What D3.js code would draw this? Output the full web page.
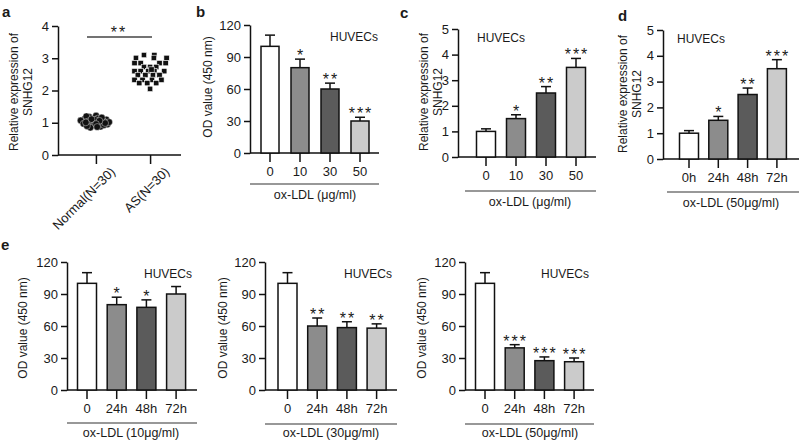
<!DOCTYPE html>
<html><head><meta charset="utf-8">
<script src="https://cdn.jsdelivr.net/npm/d3@7/dist/d3.min.js"></script>
<style>
body{margin:0;background:#fff;}
svg{display:block;}
svg text{font-family:"Liberation Sans",Arial,Helvetica,sans-serif;fill:#1a1a1a;}
</style></head><body>
<svg id="chart" width="800" height="441"></svg>
<script>
// ---------- DATA ----------
const aCategories = ["Normal(N=30)", "AS(N=30)"];
const aTicks = [0, 1, 2, 3, 4];
const normalValues = [1.22,1.18,1.15,1.12,1.10,1.08,1.05,1.03,1.00,0.98,0.95,0.92,0.88,0.85,1.20,1.13,1.07,1.02,0.97,0.93,1.16,1.09,1.04,0.99,0.90,1.11,1.06,1.01,0.96,0.87];
const normalJitter = [0.02,-0.10,0.12,-0.18,0.20,-0.05,0.15,-0.22,0.05,-0.12,0.22,-0.02,0.10,-0.08,-0.15,0.05,-0.25,0.25,-0.20,0.16,0.12,0.00,-0.12,0.18,-0.14,-0.06,0.08,-0.16,0.02,0.04];
const asValues = [3.10,3.10,3.01,3.01,3.01,2.85,2.85,2.85,2.85,2.73,2.73,2.73,2.60,2.60,2.60,2.60,2.60,2.48,2.48,2.48,2.48,2.33,2.33,2.33,2.33,2.23,2.23,2.23,2.05,2.65];
const asJitter = [-0.13,0.09,-0.30,0.08,0.35,-0.33,-0.20,0.20,0.33,-0.13,0.00,0.13,-0.33,-0.20,-0.04,0.09,0.30,-0.26,-0.10,0.06,0.20,-0.33,-0.16,0.04,0.24,-0.23,-0.06,0.13,0.00,0.03];
const aSig = "**";

const concCategories = ["0", "10", "30", "50"];
const timeCategories = ["0h", "24h", "48h", "72h"];
const timeCategoriesE = ["0", "24h", "48h", "72h"];
const odTicks = [0, 30, 60, 90, 120];
const exprTicks = [0, 1, 2, 3, 4, 5];

const bMeans = [100, 80, 60, 30];
const bErr = [10.5, 8, 5.5, 3.5];
const bSig = ["", "*", "**", "***"];

const cMeans = [1.0, 1.5, 2.5, 3.5];
const cErr = [0.1, 0.15, 0.25, 0.35];
const cSig = ["", "*", "**", "***"];

const dMeans = [1.0, 1.5, 2.5, 3.5];
const dErr = [0.1, 0.15, 0.25, 0.35];
const dSig = ["", "*", "**", "***"];

const e1Means = [100, 80, 77.5, 90];
const e1Err = [10, 7, 7, 7];
const e1Sig = ["", "*", "*", ""];

const e2Means = [100, 60, 58.5, 58];
const e2Err = [10, 7.5, 5.5, 4];
const e2Sig = ["", "**", "**", "**"];

const e3Means = [100, 39.5, 27.5, 26.5];
const e3Err = [10, 3, 3.5, 3.5];
const e3Sig = ["", "***", "***", "***"];

const barColors = ["#ffffff", "#8c8c8c", "#5b5b5b", "#cbcbcb"];

// ---------- DRAW ----------
const svg = d3.select("#chart");
const FONT = '"Liberation Sans",Arial,Helvetica,sans-serif';
const fmt = d3.format("d");

function panelLetter(t, x, y) {
  svg.append("text").attr("x", x).attr("y", y).attr("font-size", 15)
    .attr("font-weight", "bold").text(t);
}
function yTitle(lines, x, yc, size) {
  lines.forEach((l, i) => {
    svg.append("text")
      .attr("transform", `translate(${x + i * 14},${yc}) rotate(-90)`)
      .attr("text-anchor", "middle").attr("dy", "0.36em")
      .attr("font-size", size).text(l);
  });
}
function styleAxis(g) {
  g.attr("font-family", FONT);
  g.selectAll("path,line").attr("stroke", "#111").attr("stroke-width", 1.5);
  g.selectAll("text").attr("fill", "#1a1a1a");
}
function stars(x, y, s) {
  svg.append("text").attr("x", x + 1).attr("y", y).attr("text-anchor", "middle")
    .attr("font-size", 16).attr("letter-spacing", 2).text(s);
}

function barPanel(cfg) {
  const y = d3.scaleLinear().domain([0, cfg.ymax]).range([cfg.y0, cfg.yTop]);
  const step = cfg.step, n = cfg.cats.length;
  const x = d3.scaleBand().domain(cfg.cats)
    .range([cfg.c0 - step / 2, cfg.c0 - step / 2 + n * step])
    .paddingInner(1 - cfg.bw / step).paddingOuter((1 - cfg.bw / step) / 2);

  const ya = svg.append("g").attr("transform", `translate(${cfg.ax},0)`)
    .call(d3.axisLeft(y).tickValues(cfg.ticks).tickFormat(fmt).tickSize(6).tickPadding(3).tickSizeOuter(0));
  ya.selectAll("text").attr("font-size", 13);
  styleAxis(ya);

  const xa = svg.append("g").attr("transform", `translate(0,${cfg.y0})`)
    .call(d3.axisBottom(x).tickSize(9).tickPadding(5));
  xa.select(".domain").remove();
  xa.selectAll("text").attr("font-size", 13);
  styleAxis(xa);
  svg.append("line").attr("x1", cfg.ax).attr("x2", cfg.axEnd)
    .attr("y1", cfg.y0).attr("y2", cfg.y0).attr("stroke", "#111").attr("stroke-width", 1.5);

  cfg.cats.forEach((c, i) => {
    const cx = x(c) + x.bandwidth() / 2;
    const top = y(cfg.means[i] + cfg.err[i]);
    svg.append("line").attr("x1", cx).attr("x2", cx).attr("y1", y(cfg.means[i])).attr("y2", top)
      .attr("stroke", "#111").attr("stroke-width", 1.5);
    svg.append("line").attr("x1", cx - 5).attr("x2", cx + 5).attr("y1", top).attr("y2", top)
      .attr("stroke", "#111").attr("stroke-width", 1.5);
    svg.append("rect").attr("x", x(c)).attr("y", y(cfg.means[i]))
      .attr("width", x.bandwidth()).attr("height", cfg.y0 - y(cfg.means[i]))
      .attr("fill", barColors[i]).attr("stroke", "#111").attr("stroke-width", 1.5);
    if (cfg.sig[i]) stars(cx, top + 2, cfg.sig[i]);
  });

  svg.append("text").attr("x", cfg.hx).attr("y", cfg.hy).attr("font-size", 12)
    .attr("text-anchor", cfg.hAnchor || "start").text("HUVECs");

  svg.append("line").attr("x1", cfg.ulX1 ?? cfg.ax).attr("x2", cfg.axEnd)
    .attr("y1", cfg.ulY).attr("y2", cfg.ulY).attr("stroke", "#333").attr("stroke-width", 1.2);
  svg.append("text").attr("x", cfg.capX).attr("y", cfg.capY).attr("text-anchor", "middle")
    .attr("font-size", 12.5).text(cfg.caption);
}

// ----- panel a -----
(function () {
  const y = d3.scaleLinear().domain([0, 4]).range([155, 26]);
  const x = d3.scalePoint().domain(aCategories).range([58, 188]).padding(0.7);
  const step = x.step();
  const ya = svg.append("g").attr("transform", "translate(58,0)")
    .call(d3.axisLeft(y).tickValues(aTicks).tickFormat(fmt).tickSize(6).tickPadding(3).tickSizeOuter(0));
  ya.selectAll("text").attr("font-size", 13);
  styleAxis(ya);
  const xa = svg.append("g").attr("transform", "translate(0,155)")
    .call(d3.axisBottom(x).tickSize(9).tickPadding(4));
  xa.select(".domain").remove();
  xa.selectAll("text").attr("font-size", 13).attr("text-anchor", "end")
    .attr("transform", "translate(4,2) rotate(-45)").attr("dy", "0.7em");
  styleAxis(xa);
  svg.append("line").attr("x1", 58).attr("x2", 181).attr("y1", 155).attr("y2", 155)
    .attr("stroke", "#111").attr("stroke-width", 1.5);

  const nx = x(aCategories[0]) - 1, ax = x(aCategories[1]);
  normalValues.forEach((v, i) => {
    svg.append("circle").attr("cx", nx + normalJitter[i] * step * 1.05).attr("cy", y(v))
      .attr("r", 3.4).attr("fill", "#111").attr("stroke", "#fff").attr("stroke-width", 0.4);
  });
  asValues.forEach((v, i) => {
    svg.append("rect").attr("x", ax + asJitter[i] * step * 0.87 - 2.7).attr("y", y(v) - 2.7)
      .attr("width", 5.4).attr("height", 5.4).attr("fill", "#111")
      .attr("stroke", "#fff").attr("stroke-width", 0.6);
  });
  svg.append("line").attr("x1", 87).attr("x2", 152).attr("y1", 37).attr("y2", 37)
    .attr("stroke", "#444").attr("stroke-width", 1.6);
  stars(118, 38, aSig);
  yTitle(["Relative expression of", "SNHG12"], 14, 92, 12);
  panelLetter("a", 2, 17);
})();

// ----- panel b -----
barPanel({cats: concCategories, means: bMeans, err: bErr, sig: bSig, ymax: 120, ticks: odTicks,
  ax: 250, axEnd: 379, c0: 270, step: 30, bw: 18, yTop: 25, y0: 153,
  hx: 330, hy: 41, ulY: 184, capX: 315, capY: 199, caption: "ox-LDL (μg/ml)"});
yTitle(["OD value (450 nm)"], 208, 87, 12);
panelLetter("b", 196, 17);

// ----- panel c -----
barPanel({cats: concCategories, means: cMeans, err: cErr, sig: cSig, ymax: 5, ticks: exprTicks,
  ax: 458, axEnd: 596, c0: 486, step: 30, bw: 19, yTop: 29, y0: 157,
  hx: 477, hy: 42, ulX1: 465, ulY: 191, capX: 530, capY: 206, caption: "ox-LDL (μg/ml)"});
yTitle(["Relative expression of", "SNHG12"], 424, 92, 12);
panelLetter("c", 400, 18);

// ----- panel d -----
barPanel({cats: timeCategories, means: dMeans, err: dErr, sig: dSig, ymax: 5, ticks: exprTicks,
  ax: 663, axEnd: 799, c0: 689, step: 29.3, bw: 19, yTop: 30, y0: 159,
  hx: 677, hy: 43, ulX1: 667, ulY: 192, capX: 731, capY: 207, caption: "ox-LDL (50μg/ml)"});
yTitle(["Relative expression of", "SNHG12"], 623, 94, 12);
panelLetter("d", 618, 21);

// ----- panel e -----
barPanel({cats: timeCategoriesE, means: e1Means, err: e1Err, sig: e1Sig, ymax: 120, ticks: odTicks,
  ax: 67, axEnd: 197, c0: 87, step: 29.7, bw: 19, yTop: 262, y0: 390,
  hx: 192, hy: 278, hAnchor: "end", ulY: 423, capX: 131, capY: 437, caption: "ox-LDL (10μg/ml)"});
yTitle(["OD value (450 nm)"], 23, 328, 12);

barPanel({cats: timeCategoriesE, means: e2Means, err: e2Err, sig: e2Sig, ymax: 120, ticks: odTicks,
  ax: 265, axEnd: 397, c0: 287.5, step: 29.7, bw: 19, yTop: 262, y0: 390,
  hx: 392, hy: 278, hAnchor: "end", ulY: 424, capX: 331, capY: 437, caption: "ox-LDL (30μg/ml)"});
yTitle(["OD value (450 nm)"], 223, 328, 12);

barPanel({cats: timeCategoriesE, means: e3Means, err: e3Err, sig: e3Sig, ymax: 120, ticks: odTicks,
  ax: 465, axEnd: 594, c0: 485, step: 29.7, bw: 19, yTop: 262, y0: 390,
  hx: 589, hy: 278, hAnchor: "end", ulY: 424, capX: 530, capY: 437, caption: "ox-LDL (50μg/ml)"});
yTitle(["OD value (450 nm)"], 422, 328, 12);
panelLetter("e", 1, 250);
</script>
</body></html>
